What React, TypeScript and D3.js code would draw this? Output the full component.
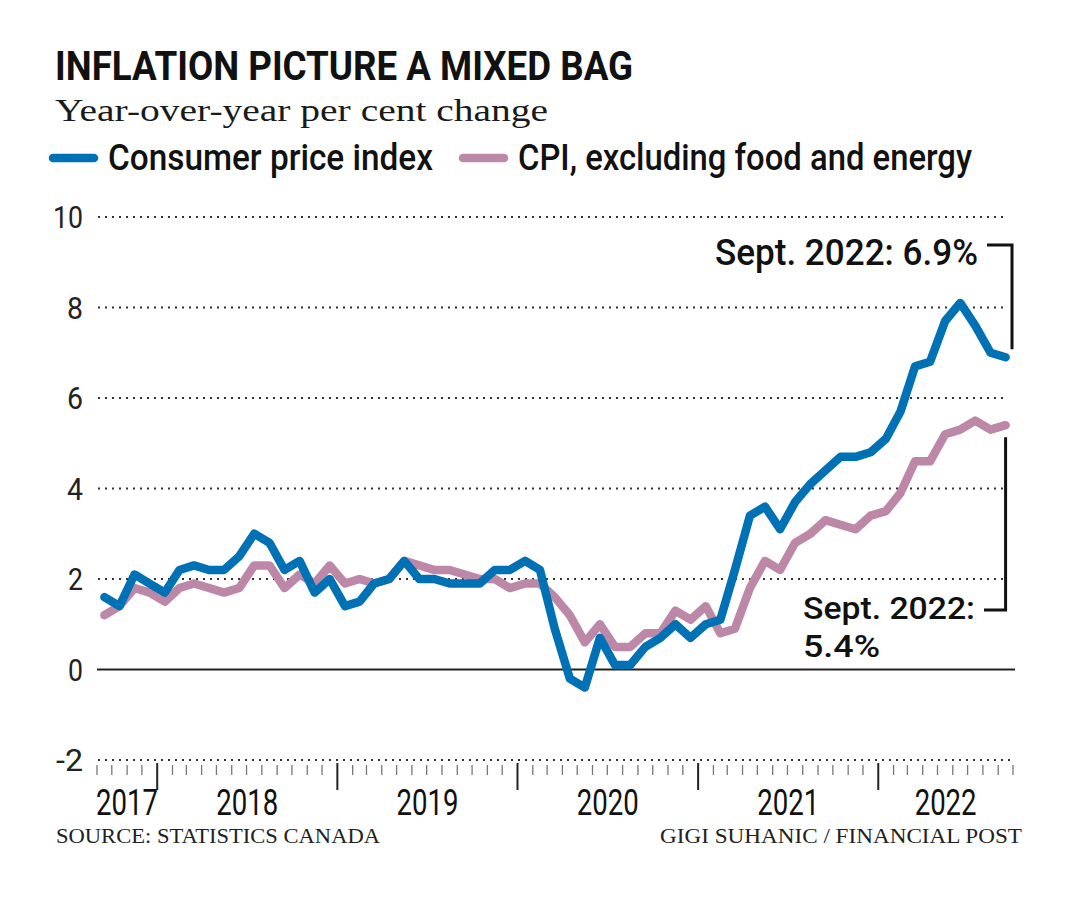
import React from 'react';
import * as d3 from 'd3';

// Year-over-year % change, monthly, Sept. 2017 – Sept. 2022
const START = new Date(Date.UTC(2017, 8, 1));

const cpi = [
  1.6, 1.4, 2.1, 1.9,
  1.7, 2.2, 2.3, 2.2, 2.2, 2.5, 3.0, 2.8, 2.2, 2.4, 1.7, 2.0,
  1.4, 1.5, 1.9, 2.0, 2.4, 2.0, 2.0, 1.9, 1.9, 1.9, 2.2, 2.2,
  2.4, 2.2, 0.9, -0.2, -0.4, 0.7, 0.1, 0.1, 0.5, 0.7, 1.0, 0.7,
  1.0, 1.1, 2.2, 3.4, 3.6, 3.1, 3.7, 4.1, 4.4, 4.7, 4.7, 4.8,
  5.1, 5.7, 6.7, 6.8, 7.7, 8.1, 7.6, 7.0, 6.9,
];

const cpiCore = [
  1.2, 1.4, 1.8, 1.7,
  1.5, 1.8, 1.9, 1.8, 1.7, 1.8, 2.3, 2.3, 1.8, 2.1, 1.9, 2.3,
  1.9, 2.0, 1.9, 2.0, 2.4, 2.3, 2.2, 2.2, 2.1, 2.0, 2.0, 1.8,
  1.9, 1.9, 1.6, 1.2, 0.6, 1.0, 0.5, 0.5, 0.8, 0.8, 1.3, 1.1,
  1.4, 0.8, 0.9, 1.8, 2.4, 2.2, 2.8, 3.0, 3.3, 3.2, 3.1, 3.4,
  3.5, 3.9, 4.6, 4.6, 5.2, 5.3, 5.5, 5.3, 5.4,
];

const yTicks = [-2, 0, 2, 4, 6, 8, 10];
const yearLabels = [2017, 2018, 2019, 2020, 2021, 2022];
const seriesNames = ['Consumer price index', 'CPI, excluding food and energy'];

const BLUE = '#0071b5';
const PINK = '#bd88a7';
const SANS = 'Roboto, "Open Sans", sans-serif';
const SERIF = '"Liberation Serif", "DejaVu Serif", serif';

export default function App() {
  const W = 1080;
  const H = 901;
  const end = d3.utcMonth.offset(START, cpi.length);
  const months = cpi.map((_, i) => d3.utcMonth.offset(START, i));

  const x = d3.scaleUtc().domain([START, end]).range([97, 1013]);
  const y = d3.scaleLinear().domain([-2, 10]).range([760, 217]);
  const mid = (d: Date) => (x(d) + x(d3.utcMonth.offset(d, 1))) / 2;

  const line = d3
    .line<number>()
    .x((_, i) => mid(months[i]))
    .y((v) => y(v));

  const monthTicks = d3.utcMonth.range(START, d3.utcMonth.offset(end, 1));

  const yearCenter = (yr: number) => {
    const a = new Date(Math.max(+START, Date.UTC(yr, 0, 1)));
    const b = new Date(Math.min(+end, Date.UTC(yr + 1, 0, 1)));
    return (x(a) + x(b)) / 2;
  };

  const tickLen: Record<number, number> = { [-2]: 27, 0: 15, 2: 15, 4: 16, 6: 16, 8: 16, 10: 30 };

  const lastCpi = cpi[cpi.length - 1];
  const lastCore = cpiCore[cpiCore.length - 1];
  const lastX = mid(months[months.length - 1]);

  return (
    <svg
      width={W}
      height={H}
      viewBox={`0 0 ${W} ${H}`}
      style={{ position: 'absolute', left: 0, top: 0, background: '#fff' }}
    >
      <rect x={0} y={0} width={W} height={H} fill="#fff" />
      {/* Title */}
      <text x={55} y={80} fontFamily={SANS} fontWeight={700} fontSize={41} fill="#111"
        textLength={578} lengthAdjust="spacingAndGlyphs">
        INFLATION PICTURE A MIXED BAG
      </text>
      <text x={55} y={121} fontFamily={SERIF} fontSize={32} fill="#1a1a1a"
        textLength={493} lengthAdjust="spacingAndGlyphs">
        Year-over-year per cent change
      </text>

      {/* Legend */}
      <line x1={53} x2={94} y1={158} y2={158} stroke={BLUE} strokeWidth={8.5} strokeLinecap="round" />
      <text x={108} y={170} fontFamily={SANS} fontWeight={500} fontSize={37} fill="#111"
        textLength={325} lengthAdjust="spacingAndGlyphs">
        {seriesNames[0]}
      </text>
      <line x1={463} x2={504} y1={158} y2={158} stroke={PINK} strokeWidth={8.5} strokeLinecap="round" />
      <text x={518} y={170} fontFamily={SANS} fontWeight={500} fontSize={37} fill="#111"
        textLength={454} lengthAdjust="spacingAndGlyphs">
        {seriesNames[1]}
      </text>

      {/* Gridlines */}
      {yTicks.map((t) =>
        t === 0 ? (
          <line key={t} x1={97} x2={1015} y1={y(t)} y2={y(t)} stroke="#222" strokeWidth={2} />
        ) : (
          <line key={t} x1={98} x2={t === -2 ? 1013 : 1007} y1={y(t)} y2={y(t)}
            stroke="#333" strokeWidth={2} strokeDasharray="2,5" />
        )
      )}
      {yTicks.map((t) => (
        <text key={'l' + t} x={83} y={y(t) + 11} textAnchor="end" fontFamily={SANS}
          fontSize={31} fill="#222" textLength={tickLen[t]} lengthAdjust="spacingAndGlyphs">
          {t}
        </text>
      ))}

      {/* Month ticks */}
      {monthTicks.map((d, i) => {
        const major = d.getUTCMonth() === 0;
        return (
          <line key={'t' + i} x1={x(d)} x2={x(d)} y1={major ? 763 : 765} y2={major ? 790 : 775}
            stroke={major ? '#222' : '#777'} strokeWidth={major ? 2 : 1.3} />
        );
      })}
      {yearLabels.map((yr) => (
        <text key={'y' + yr} x={yearCenter(yr)} y={815} textAnchor="middle" fontFamily={SANS}
          fontSize={37} fill="#111" textLength={62} lengthAdjust="spacingAndGlyphs">
          {yr}
        </text>
      ))}

      {/* Series */}
      <path d={line(cpiCore) || ''} fill="none" stroke={PINK} strokeWidth={8.5}
        strokeLinejoin="round" strokeLinecap="round" />
      <path d={line(cpi) || ''} fill="none" stroke={BLUE} strokeWidth={8.5}
        strokeLinejoin="round" strokeLinecap="round" />

      {/* Annotations */}
      <path d={`M987,245 H1012 V${y(lastCpi) - 8}`} fill="none" stroke="#111" strokeWidth={3} />
      <text x={978} y={265} textAnchor="end" fontFamily={SANS} fontWeight={500} fontSize={36}
        fill="#111" textLength={263} lengthAdjust="spacingAndGlyphs">
        {`Sept. 2022: ${lastCpi}%`}
      </text>
      <path d={`M${lastX},${y(lastCore) + 12} V610 H984`} fill="none" stroke="#111" strokeWidth={3} />
      <text x={803} y={619} fontFamily={SANS} fontWeight={500} fontSize={32} fill="#111"
        textLength={172} lengthAdjust="spacingAndGlyphs">
        Sept. 2022:
      </text>
      <text x={803} y={657} fontFamily={SANS} fontWeight={500} fontSize={32} fill="#111"
        textLength={77} lengthAdjust="spacingAndGlyphs">
        {`${lastCore}%`}
      </text>

      {/* Footer */}
      <text x={56} y={843} fontFamily={SERIF} fontSize={21} fill="#222"
        textLength={324} lengthAdjust="spacingAndGlyphs">
        SOURCE: STATISTICS CANADA
      </text>
      <text x={1022} y={843} textAnchor="end" fontFamily={SERIF} fontSize={21} fill="#222"
        textLength={362} lengthAdjust="spacingAndGlyphs">
        GIGI SUHANIC / FINANCIAL POST
      </text>
    </svg>
  );
}
